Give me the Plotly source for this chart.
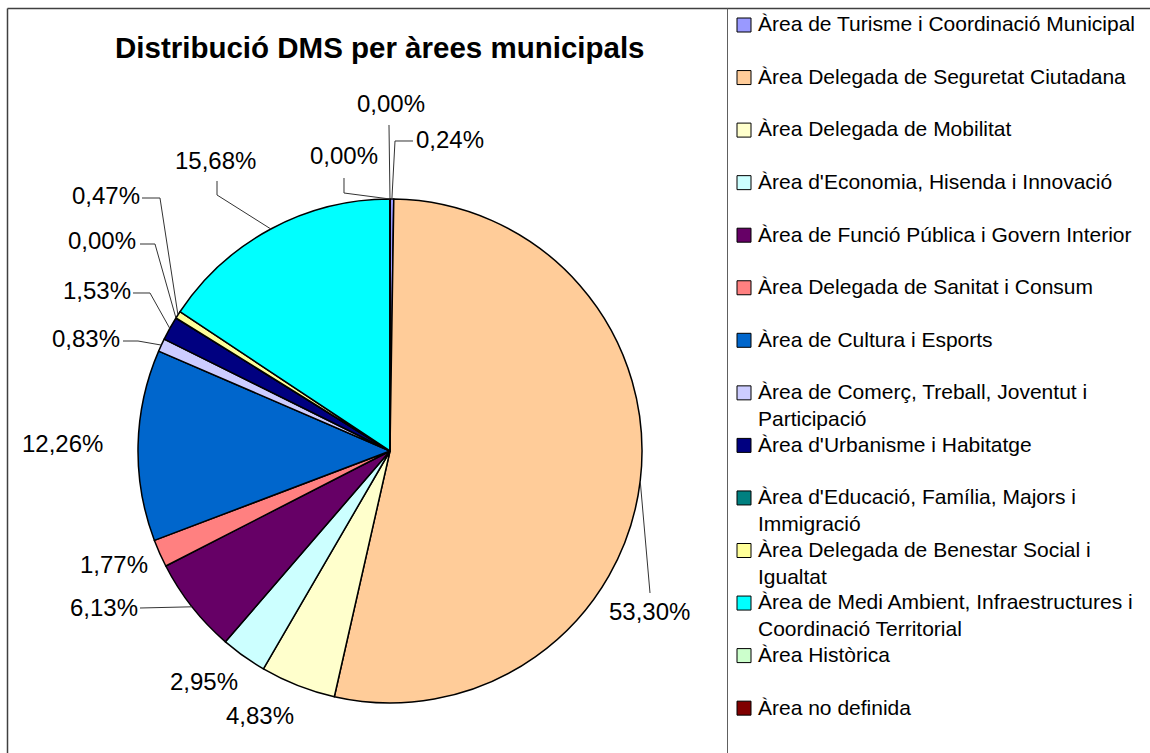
import math
import plotly.graph_objects as go

# ---------------- data ----------------
categories = [
    "Àrea de Turisme i Coordinació Municipal",
    "Àrea Delegada de Seguretat Ciutadana",
    "Àrea Delegada de Mobilitat",
    "Àrea d'Economia, Hisenda i Innovació",
    "Àrea de Funció Pública i Govern Interior",
    "Àrea Delegada de Sanitat i Consum",
    "Àrea de Cultura i Esports",
    "Àrea de Comerç, Treball, Joventut i Participació",
    "Àrea d'Urbanisme i Habitatge",
    "Àrea d'Educació, Família, Majors i Immigració",
    "Àrea Delegada de Benestar Social i Igualtat",
    "Àrea de Medi Ambient, Infraestructures i Coordinació Territorial",
    "Àrea Històrica",
    "Àrea no definida",
]
values = [0.24, 53.30, 4.83, 2.95, 6.13, 1.77, 12.26, 0.83, 1.53, 0.00, 0.47, 15.68, 0.00, 0.00]
legend_lines = [
    ["Àrea de Turisme i Coordinació Municipal"],
    ["Àrea Delegada de Seguretat Ciutadana"],
    ["Àrea Delegada de Mobilitat"],
    ["Àrea d'Economia, Hisenda i Innovació"],
    ["Àrea de Funció Pública i Govern Interior"],
    ["Àrea Delegada de Sanitat i Consum"],
    ["Àrea de Cultura i Esports"],
    ["Àrea de Comerç, Treball, Joventut i", "Participació"],
    ["Àrea d'Urbanisme i Habitatge"],
    ["Àrea d'Educació, Família, Majors i", "Immigració"],
    ["Àrea Delegada de Benestar Social i", "Igualtat"],
    ["Àrea de Medi Ambient, Infraestructures i", "Coordinació Territorial"],
    ["Àrea Històrica"],
    ["Àrea no definida"],
]
title = "Distribució DMS per àrees municipals"

# ---------------- styles / layout ----------------
colors = ["#9999FF", "#FFCC99", "#FFFFCC", "#CCFFFF", "#660066", "#FF8080", "#0066CC",
          "#CCCCFF", "#000080", "#008080", "#FFFF99", "#00FFFF", "#CCFFCC", "#800000"]
W, H = 1150, 753
CX, CY, R = 390, 451, 252
FONT = "Arial, 'Liberation Sans', sans-serif"

# label centres (px) and leader elbow points (px), in slice order
label_pos = [(450, 139), (649, 611), (260, 715), (204, 681), (104, 607), (114, 564), (62, 443),
             (86, 338), (97, 290), (102, 241), (106, 195), (216, 160), (344, 155), (391, 104)]
leaders = [
    [(395, 141), (413, 141)],
    [(650, 593)],
    None,
    None,
    [(140, 608)],
    None,
    None,
    [(138, 341), (123, 341)],
    [(150, 293), (133, 293)],
    [(155, 244), (140, 244)],
    [(160, 198), (142, 198)],
    [(217, 195), (217, 181)],
    [(344, 193), (344, 178)],
    [(389, 125)],
]


def px(x):
    return x / W


def py(y):
    return 1 - y / H


fig = go.Figure()
fig.add_trace(go.Pie(
    labels=categories,
    values=values,
    sort=False,
    direction="clockwise",
    rotation=0,
    textinfo="none",
    showlegend=False,
    marker=dict(colors=colors, line=dict(color="#000000", width=1.5)),
    domain=dict(x=[px(CX - R), px(CX + R)], y=[py(CY + R), py(CY - R)]),
))

annotations = []
shapes = []

# title
annotations.append(dict(x=px(380), y=py(48), xref="paper", yref="paper", text="<b>%s</b>" % title,
                        showarrow=False, xanchor="center", yanchor="middle",
                        font=dict(family=FONT, size=29.5, color="#000000")))

# percentage labels + leader lines
total = sum(values)
cum = 0.0
for i, v in enumerate(values):
    mid = (cum + v / 2) / total * 2 * math.pi
    cum += v
    ex = CX + R * math.sin(mid)
    ey = CY - R * math.cos(mid)
    lx, ly = label_pos[i]
    txt = ("%.2f" % v).replace(".", ",") + "%"
    annotations.append(dict(x=px(lx), y=py(ly), xref="paper", yref="paper", text=txt,
                            showarrow=False, xanchor="center", yanchor="middle",
                            font=dict(family=FONT, size=24, color="#000000")))
    if leaders[i]:
        pts = [(ex, ey)] + leaders[i]
        path = "M " + " L ".join("%.5f,%.5f" % (px(a), py(b)) for a, b in pts)
        shapes.append(dict(type="path", xref="paper", yref="paper", path=path,
                           line=dict(color="#333333", width=1)))

# legend (manual)
row0, step = 25, 52.55
LFS = 21
for i, lines in enumerate(legend_lines):
    yc = row0 + i * step
    shapes.append(dict(type="rect", xref="paper", yref="paper",
                       x0=px(737), x1=px(751), y0=py(yc - 7), y1=py(yc + 7),
                       fillcolor=colors[i], line=dict(color="#000000", width=1)))
    annotations.append(dict(x=px(757), y=py(yc - LFS * 0.65), xref="paper", yref="paper",
                            text="<br>".join(lines), showarrow=False, align="left",
                            xanchor="left", yanchor="top", borderpad=0,
                            font=dict(family=FONT, size=LFS, color="#000000")))

# borders
shapes.append(dict(type="line", xref="paper", yref="paper", x0=px(7.5), x1=px(1150), y0=py(8.5), y1=py(8.5),
                   line=dict(color="#404040", width=1.5)))
shapes.append(dict(type="line", xref="paper", yref="paper", x0=px(7.5), x1=px(7.5), y0=py(8.5), y1=py(753),
                   line=dict(color="#404040", width=1.5)))
shapes.append(dict(type="line", xref="paper", yref="paper", x0=px(727.5), x1=px(727.5), y0=py(8.5), y1=py(753),
                   line=dict(color="#606060", width=1)))

fig.update_layout(
    width=W, height=H, autosize=False,
    margin=dict(l=0, r=0, t=0, b=0),
    paper_bgcolor="#FFFFFF", plot_bgcolor="#FFFFFF",
    annotations=annotations, shapes=shapes,
    font=dict(family=FONT, color="#000000"),
)
fig.write_html("out.html")
